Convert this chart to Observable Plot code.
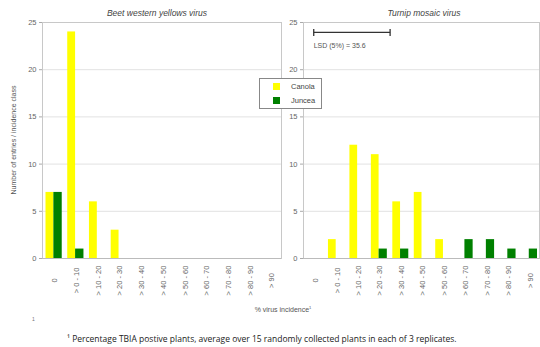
<!DOCTYPE html>
<html><head><meta charset="utf-8">
<script src="https://cdn.jsdelivr.net/npm/d3@7"></script>
<script src="https://cdn.jsdelivr.net/npm/@observablehq/plot@0.6"></script>
<style>
body{margin:0;background:#fff;}
#c{position:relative;width:540px;height:347px;font-family:Arial,"Liberation Sans",sans-serif;color:#555;overflow:hidden;}
.abs{position:absolute;white-space:nowrap;line-height:1;}
#c svg{position:absolute;top:0;overflow:visible;}
</style></head><body><div id="c"></div>
<script>
const classes = ["0","> 0 - 10","> 10 - 20","> 20 - 30","> 30 - 40","> 40 - 50","> 50 - 60","> 60 - 70","> 70 - 80","> 80 - 90","> 90"];
const bwyvCanola = [7,24,6,3,0,0,0,0,0,0,0];
const bwyvJuncea = [7,1,0,0,0,0,0,0,0,0,0];
const tumvCanola = [0,2,12,11,6,7,2,0,0,0,0];
const tumvJuncea = [0,0,0,1,1,0,0,2,2,1,1];
const yTicks = [0,5,10,15,20,25];
const series = ["Canola","Juncea"];
const colors = ["#ffff00","#008000"];
const lsdValue = 35.6;
const classWidth = 10;
const titles = ["Beet western yellows virus","Turnip mosaic virus"];

const c = document.getElementById("c");

function panel(canola, juncea, opt) {
  const W = opt.width, mL = opt.marginLeft, mR = opt.marginRight;
  const bw = (W - mL - mR) / classes.length;
  const dC = classes.map((k,i)=>({cls:k, v:canola[i]})).filter(d=>d.v>0);
  const dJ = classes.map((k,i)=>({cls:k, v:juncea[i]})).filter(d=>d.v>0);
  const marks = [
    Plot.gridY(yTicks, {stroke:"#e2e2e2", strokeOpacity:1}),
    Plot.frame({stroke:"#c8c8c8"}),
    Plot.axisY(yTicks, {tickSize:3, tickPadding:3, fontSize:7.5, fill:"#666", stroke:"#aaa", label:null}),
    Plot.axisX({rotate:-90, tickSize:0, tickPadding:0, textAnchor:"middle", dy:22, dx:-1.5, fontSize:7.5, fill:"#666", label:null}),
    Plot.barY(dC, {x:"cls", y:"v", fill:colors[0], insetLeft:3.5, insetRight:bw/2-0.5}),
    Plot.barY(dJ, {x:"cls", y:"v", fill:colors[1], insetLeft:bw/2+0.5, insetRight:2}),
    Plot.ruleY([0], {stroke:"#bbb"})
  ];
  if (opt.lsd) {
    marks.push((index, scales) => {
      const x = scales.x, y = scales.y;
      const step = x(classes[1]) - x(classes[0]);
      const x0 = x(classes[0]) + step/2;
      const x1 = x0 + lsdValue/classWidth*step;
      const yb = y(23.9);
      const g = d3.create("svg:g");
      g.append("line").attr("x1",x0).attr("x2",x1).attr("y1",yb).attr("y2",yb).attr("stroke","#333").attr("stroke-width",1.3);
      [x0,x1].forEach(xx=>g.append("line").attr("x1",xx).attr("x2",xx).attr("y1",yb-3.5).attr("y2",yb+3.5).attr("stroke","#333").attr("stroke-width",1.3));
      g.append("text").attr("x",x0).attr("y",y(22.2)).attr("text-anchor","start").attr("font-size",7).attr("fill","#555").attr("font-family","Arial, sans-serif").text(`LSD (5%) = ${lsdValue}`);
      return g.node();
    });
  }
  const svg = Plot.plot({
    width: W, height: 300,
    marginLeft: mL, marginRight: mR, marginTop: 22, marginBottom: 42,
    x: {type:"band", domain: classes, padding: 0, round: false, label: null},
    y: {domain:[0,25], label: null},
    style: {fontFamily:"Arial, sans-serif", background:"transparent"},
    marks
  });
  svg.style.left = opt.left + "px";
  c.appendChild(svg);
}

panel(bwyvCanola, bwyvJuncea, {left:0, width:282, marginLeft:42, marginRight:1, lsd:false});
panel(tumvCanola, tumvJuncea, {left:282, width:258, marginLeft:21, marginRight:1, lsd:true});

function txt(s, css) {
  const d = document.createElement("div");
  d.className = "abs"; d.textContent = s;
  Object.assign(d.style, css); c.appendChild(d); return d;
}
txt(titles[0], {left:"157px", top:"9px", transform:"translateX(-50%)", fontSize:"8.5px", fontStyle:"italic", color:"#444"});
txt(titles[1], {left:"424px", top:"9px", transform:"translateX(-50%)", fontSize:"8.5px", fontStyle:"italic", color:"#444"});
txt("Number of entries / incidence class", {left:"13px", top:"140px", transform:"translate(-50%,-50%) rotate(-90deg)", fontSize:"7px", color:"#555"});
const xl = txt("% virus incidence", {left:"283px", top:"306px", transform:"translateX(-50%)", fontSize:"7px", color:"#555"});
const sup = document.createElement("sup"); sup.textContent="1"; sup.style.fontSize="4px"; xl.appendChild(sup);
txt("1", {left:"32px", top:"317px", fontSize:"5px", color:"#777"});
txt("\u00B9 Percentage TBIA postive plants, average over 15 randomly collected plants in each of 3 replicates.", {left:"67px", top:"335px", fontSize:"8.5px", color:"#222", fontFamily:"'Open Sans', sans-serif"});

// legend
const lg = document.createElement("div");
lg.className = "abs";
Object.assign(lg.style, {left:"259px", top:"78px", width:"61px", height:"29px", border:"1px solid #888", background:"#fff"});
series.forEach((s,i)=>{
  const row = document.createElement("div");
  Object.assign(row.style, {position:"absolute", left:"13px", top:(4+i*14)+"px", display:"flex", alignItems:"center"});
  const sw = document.createElement("span");
  Object.assign(sw.style, {display:"inline-block", width:"7px", height:"7px", background:colors[i]});
  const t = document.createElement("span");
  t.textContent = s; Object.assign(t.style, {fontSize:"7.5px", marginLeft:"11px", color:"#444"});
  row.appendChild(sw); row.appendChild(t); lg.appendChild(row);
});
c.appendChild(lg);
</script></body></html>
